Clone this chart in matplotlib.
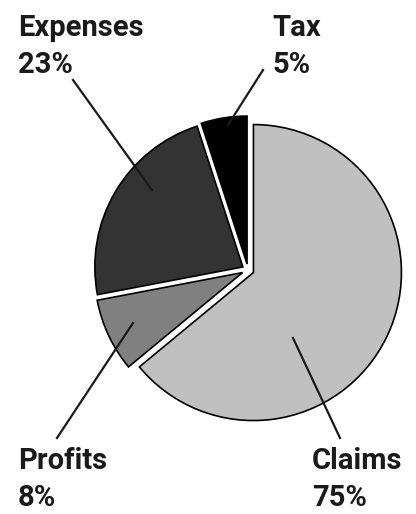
import matplotlib
matplotlib.use('Agg')
import matplotlib.pyplot as plt

names = ['Claims', 'Profits', 'Expenses', 'Tax']
shares = [64, 8, 23, 5]
pct_labels = ['75%', '8%', '23%', '5%']
colors = ['#c0c0c0', '#808080', '#333333', '#000000']

W, H = 416, 514
fig = plt.figure(figsize=(W / 100, H / 100), dpi=100)
ax = fig.add_axes([0, 0, 1, 1])

# pie in pixel units: explode is in data units here
ax.pie(shares, colors=colors, startangle=90, counterclock=False,
       explode=[6] * len(shares), radius=148, center=(248, H - 270),
       wedgeprops=dict(edgecolor='black', linewidth=1.2), frame=True)
ax.set_xlim(0, W)
ax.set_ylim(0, H)
ax.set_aspect('equal')
ax.axis('off')

# label positions (pixels from top-left) and leader lines
label_pos = {'Claims': (312, 447), 'Profits': (18, 447), 'Expenses': (18, 14), 'Tax': (272, 14)}
leaders = {'Claims': ((340, 438), (293, 338)), 'Profits': ((57, 438), (133, 323)),
           'Expenses': ((73, 80), (152, 190)), 'Tax': ((263, 70), (228, 125))}

font = dict(family='Roboto', weight='bold', size=21, color='#1a1a1a')
for name, pct in zip(names, pct_labels):
    x, y = label_pos[name]
    ax.text(x, H - y, name, ha='left', va='top', **font)
    ax.text(x, H - y - 37, pct, ha='left', va='top', **font)
    (x0, y0), (x1, y1) = leaders[name]
    ax.plot([x0, x1], [H - y0, H - y1], color='#1a1a1a', lw=1.6)

fig.savefig('out.png', dpi=100)
